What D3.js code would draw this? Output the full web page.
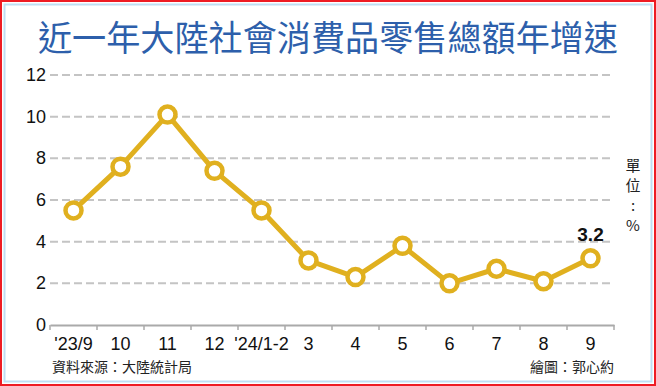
<!DOCTYPE html>
<html>
<head>
<meta charset="utf-8">
<script src="https://cdn.jsdelivr.net/npm/d3@7"></script>
<style>
  body { margin: 0; background: #fff; }
  #chart { width: 656px; height: 386px; }
  text { font-family: "Liberation Sans", Arial, sans-serif; }
  .cjk { font-family: "Noto Sans CJK TC", "Noto Sans CJK SC", sans-serif; }
</style>
</head>
<body>
<div id="chart"></div>
<script>
// Data
const months = ["'23/9", "10", "11", "12", "'24/1-2", "3", "4", "5", "6", "7", "8", "9"];
const growth = [5.5, 7.6, 10.1, 7.4, 5.5, 3.1, 2.3, 3.8, 2.0, 2.7, 2.1, 3.2];
const yTicks = [0, 2, 4, 6, 8, 10, 12];

const W = 656, H = 386;
const margin = { top: 75, right: 42, bottom: 61, left: 50 };
const width = W - margin.left - margin.right;
const height = H - margin.top - margin.bottom;

const svg = d3.select('#chart')
    .append('svg')
    .attr('width', W)
    .attr('height', H);

// frame: red outside, light blue inside
svg.append('rect')
    .attr('x', 1).attr('y', 1).attr('width', W - 2).attr('height', H - 2)
    .attr('fill', 'none').attr('stroke', '#ee1c24').attr('stroke-width', 2);
svg.append('rect')
    .attr('x', 4.5).attr('y', 4.5).attr('width', W - 9).attr('height', H - 9)
    .attr('fill', 'none').attr('stroke', '#bfdff3').attr('stroke-width', 2);

// Title
svg.append('text')
    .attr('class', 'cjk')
    .attr('x', 328)
    .attr('y', 51)
    .attr('text-anchor', 'middle')
    .attr('font-size', 35)
    .attr('textLength', 580)
    .attr('lengthAdjust', 'spacingAndGlyphs')
    .attr('fill', '#2d5fab')
    .text('近一年大陸社會消費品零售總額年增速');

const g = svg.append('g')
    .attr('transform', `translate(${margin.left},${margin.top})`);

// Scales
const x = d3.scaleBand()
    .domain(months)
    .range([0, 564]);

const y = d3.scaleLinear()
    .domain([0, 12])
    .range([height, 0]);

// Gridlines
g.selectAll('.grid')
    .data(yTicks.filter(d => d > 0))
    .enter()
    .append('line')
    .attr('x1', 0)
    .attr('x2', 564)
    .attr('y1', d => y(d))
    .attr('y2', d => y(d))
    .attr('stroke', '#c4c4c4')
    .attr('stroke-width', 2)
    .attr('stroke-dasharray', '8,4');

// Y axis labels
g.selectAll('.ylab')
    .data(yTicks)
    .enter()
    .append('text')
    .attr('x', -4)
    .attr('y', d => y(d) + 6)
    .attr('text-anchor', 'end')
    .attr('font-size', 18)
    .attr('fill', '#111')
    .text(d => d);

// X axis
const xAxis = d3.axisBottom(x).tickSize(0).tickFormat('');
const ax = g.append('g')
    .attr('transform', `translate(0,${height})`)
    .call(xAxis);
ax.select('.domain').attr('stroke', '#aaa').attr('stroke-width', 2);

// boundary ticks
g.selectAll('.xtick')
    .data(months.concat(['end']))
    .enter()
    .append('line')
    .attr('x1', (d, i) => i * x.step())
    .attr('x2', (d, i) => i * x.step())
    .attr('y1', height)
    .attr('y2', height + 5)
    .attr('stroke', '#aaa')
    .attr('stroke-width', 1.5);

g.selectAll('.xlab')
    .data(months)
    .enter()
    .append('text')
    .attr('x', d => x(d) + x.bandwidth() / 2)
    .attr('y', height + 25)
    .attr('text-anchor', 'middle')
    .attr('font-size', 18)
    .attr('fill', '#111')
    .text(d => d);

// Line
const line = d3.line()
    .x((d, i) => x(months[i]) + x.bandwidth() / 2)
    .y(d => y(d));

g.append('path')
    .datum(growth)
    .attr('d', line)
    .attr('fill', 'none')
    .attr('stroke', '#e0b01f')
    .attr('stroke-width', 5)
    .attr('stroke-linejoin', 'round');

g.selectAll('.dot')
    .data(growth)
    .enter()
    .append('circle')
    .attr('cx', (d, i) => x(months[i]) + x.bandwidth() / 2)
    .attr('cy', d => y(d))
    .attr('r', 8)
    .attr('fill', '#fff')
    .attr('stroke', '#e0b01f')
    .attr('stroke-width', 4.5);

// last value label
const last = growth.length - 1;
g.append('text')
    .attr('x', x(months[last]) + x.bandwidth() / 2)
    .attr('y', y(growth[last]) - 17)
    .attr('text-anchor', 'middle')
    .attr('font-size', 19)
    .attr('font-weight', 'bold')
    .attr('fill', '#111')
    .text(growth[last]);

// Unit, vertical
const unit = ['單', '位', ':', '%'];
svg.selectAll('.unit')
    .data(unit)
    .enter()
    .append('text')
    .attr('class', 'cjk')
    .attr('x', 633)
    .attr('y', (d, i) => 171 + i * 20)
    .attr('text-anchor', 'middle')
    .attr('font-size', 15)
    .attr('fill', '#222')
    .text(d => d);

// Footer
svg.append('text')
    .attr('class', 'cjk')
    .attr('x', 52)
    .attr('y', 372)
    .attr('font-size', 14)
    .attr('fill', '#222')
    .text('資料來源：大陸統計局');

svg.append('text')
    .attr('class', 'cjk')
    .attr('x', 614)
    .attr('y', 372)
    .attr('text-anchor', 'end')
    .attr('font-size', 14)
    .attr('fill', '#222')
    .text('繪圖：郭心約');
</script>
</body>
</html>
